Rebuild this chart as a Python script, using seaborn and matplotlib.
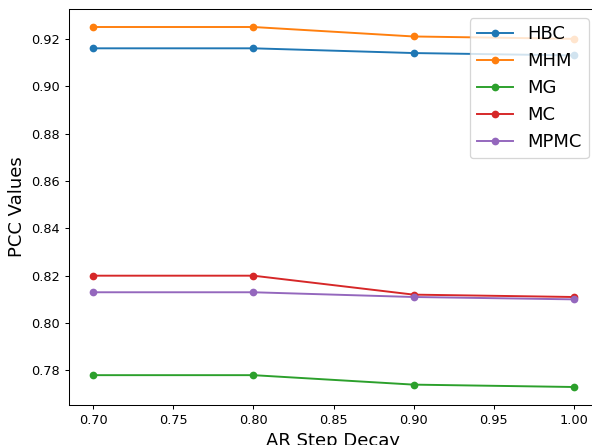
import pandas as pd
import matplotlib
matplotlib.use('Agg')
import matplotlib.pyplot as plt
import seaborn as sns

# Data
decay = [0.70, 0.80, 0.90, 1.00]
hbc = [0.916, 0.916, 0.914, 0.913]
mhm = [0.925, 0.925, 0.921, 0.920]
mg = [0.778, 0.778, 0.774, 0.773]
mc = [0.820, 0.820, 0.812, 0.811]
mpmc = [0.813, 0.813, 0.811, 0.810]
methods = ['HBC', 'MHM', 'MG', 'MC', 'MPMC']

series = [hbc, mhm, mg, mc, mpmc]
rows = []
for name, vals in zip(methods, series):
    for x, v in zip(decay, vals):
        rows.append({'AR Step Decay': x, 'PCC Values': v, 'Method': name})
df = pd.DataFrame(rows)

fig = plt.figure(figsize=(592 / 92.5, 445 / 92.5), dpi=92.5)
ax = fig.add_subplot(111)
# axes placed as in the reference (right edge runs just past the figure)
fig.subplots_adjust(left=69/592, right=598/592, top=1 - 9/445, bottom=1 - 405/445)

sns.lineplot(data=df, x='AR Step Decay', y='PCC Values', hue='Method',
             hue_order=methods, palette='tab10', marker='o', markersize=6,
             markeredgewidth=0, ax=ax)

ax.set_xlabel('AR Step Decay', fontsize=14)
ax.set_ylabel('PCC Values', fontsize=14)
ax.legend(loc='upper right', fontsize=14)

fig.savefig('out.png', dpi=92.5)
